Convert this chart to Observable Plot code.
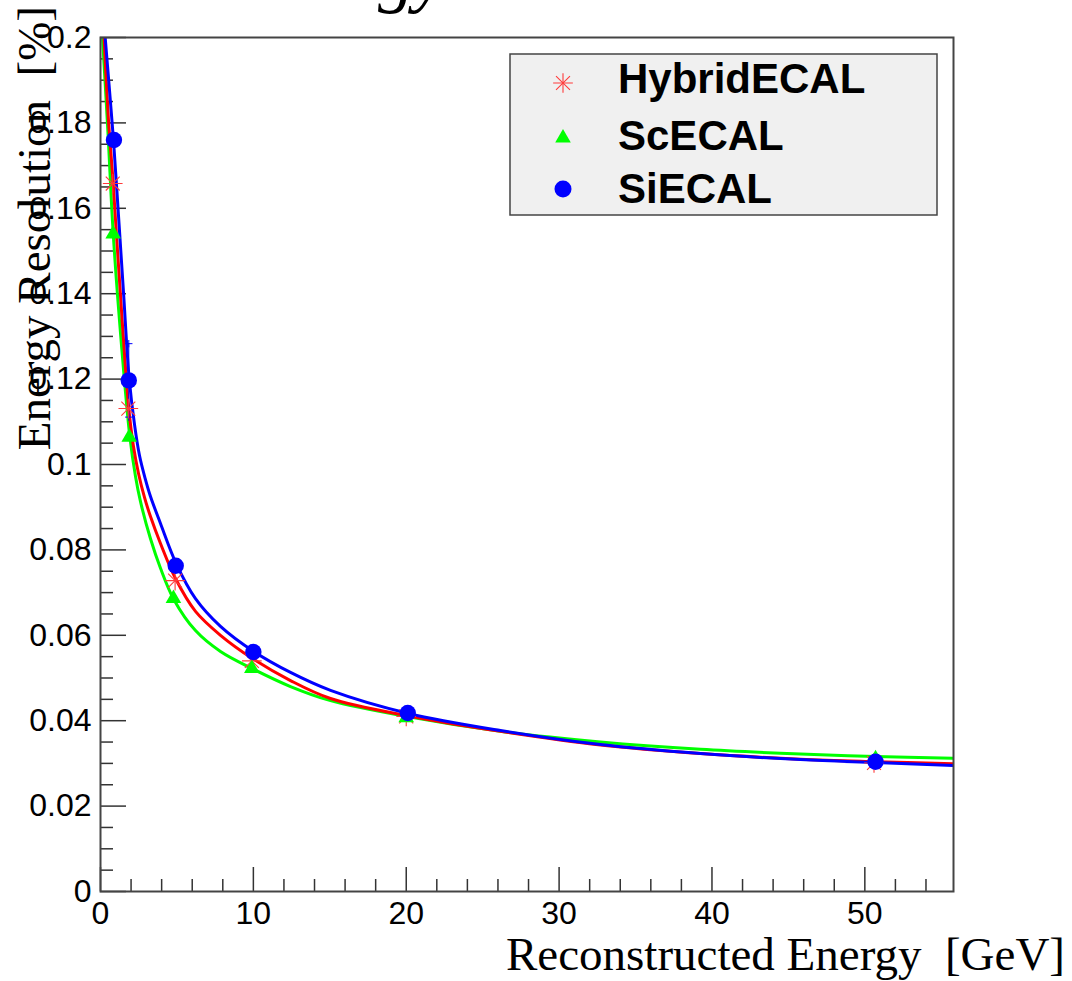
<!DOCTYPE html>
<html><head><meta charset="utf-8">
<script src="https://cdn.jsdelivr.net/npm/d3@7"></script>
<script src="https://cdn.jsdelivr.net/npm/@observablehq/plot@0.6"></script>
<style>
html,body{margin:0;padding:0;background:#fff;}
#wrap{position:relative;width:1072px;height:981px;overflow:hidden;}
#overlay{position:absolute;left:0;top:0;pointer-events:none;}
</style></head><body><div id="wrap"></div>
<script>
// ---------- data ----------
const seriesNames = ["HybridECAL", "ScECAL", "SiECAL"];

// measured points
const hybridE   = [0.80, 1.82, 4.88, 9.9, 20.0, 50.6];
const hybridRes = [0.1658, 0.1131, 0.0728, 0.0540, 0.0410, 0.0301];
const scE       = [0.83, 1.88, 4.77, 9.9, 20.0, 50.7];
const scRes     = [0.154, 0.1064, 0.0686, 0.0522, 0.0407, 0.0311];
const siE       = [0.88, 1.85, 4.92, 10.0, 20.1, 50.7];
const siRes     = [0.176, 0.1197, 0.0763, 0.0561, 0.0418, 0.0304];

// visible error bar on SiECAL point
const siErrE  = [1.85];
const siErrLo = [0.1111];
const siErrHi = [0.1283];

// fitted curves
const hybridFitE   = [0.229, 0.523, 0.831, 1.112, 1.439, 1.851, 2.159, 2.486, 2.878, 3.271, 3.925, 4.906, 6.214, 7.850, 9.923, 12.429, 15.046, 20.148, 26.166, 32.707, 39.249, 45.791, 50.697, 55.8];
const hybridFitRes = [0.2000, 0.1806, 0.1658, 0.1501, 0.1326, 0.1131, 0.1042, 0.0979, 0.0923, 0.0878, 0.0815, 0.0733, 0.0656, 0.0600, 0.0546, 0.0494, 0.0452, 0.0411, 0.0375, 0.0343, 0.0323, 0.0310, 0.0304, 0.0299];
const scFitE       = [0.131, 0.491, 0.831, 1.374, 1.917, 2.290, 2.617, 3.271, 3.925, 4.795, 6.214, 7.850, 9.923, 12.429, 15.046, 20.148, 26.166, 32.707, 39.249, 45.791, 50.697, 55.8];
const scFitRes     = [0.2000, 0.1775, 0.1541, 0.1279, 0.1066, 0.0972, 0.0913, 0.0826, 0.0757, 0.0684, 0.0611, 0.0562, 0.0522, 0.0480, 0.0447, 0.0409, 0.0375, 0.0350, 0.0333, 0.0322, 0.0316, 0.0312];
const siFitE       = [0.307, 0.589, 0.850, 1.177, 1.505, 1.877, 2.224, 2.551, 2.924, 3.271, 3.925, 4.952, 6.214, 7.850, 10.028, 12.429, 15.046, 20.148, 26.166, 32.707, 39.249, 45.791, 50.697, 55.8];
const siFitRes     = [0.2000, 0.1876, 0.1759, 0.1583, 0.1403, 0.1201, 0.1094, 0.1021, 0.0967, 0.0925, 0.0862, 0.0768, 0.0686, 0.0621, 0.0562, 0.0513, 0.0471, 0.0417, 0.0377, 0.0344, 0.0323, 0.0309, 0.0302, 0.0295];

// axes
const xMax = 55.8;
const xTickLabels = [0, 10, 20, 30, 40, 50];
const yTickLabels = [0, 0.02, 0.04, 0.06, 0.08, 0.1, 0.12, 0.14, 0.16, 0.18, 0.2];

const xTitle = "Reconstructed Energy  [GeV]";
const yTitle = "Energy Resolution  [%]";
const topTitle = "Energy";

// ---------- build ----------
const zip = (xs, ys) => xs.map((x, i) => ({e: x, r: ys[i]}));
const hybridPts = zip(hybridE, hybridRes), scPts = zip(scE, scRes), siPts = zip(siE, siRes);
const hybridFit = zip(hybridFitE, hybridFitRes), scFit = zip(scFitE, scFitRes), siFit = zip(siFitE, siFitRes);
const siErr = siErrE.map((e, i) => ({e, lo: siErrLo[i], hi: siErrHi[i]}));

const W = 1072, H = 981, mL = 100, mR = 119, mT = 37, mB = 90;
const plotW = W - mL - mR, plotH = H - mT - mB;

const xMinor = d3.range(0, xMax, 2).filter(v => v % 10 !== 0);
const yMinor = d3.range(0, 0.2001, 0.005).map(v => +v.toFixed(3)).filter(v => !yTickLabels.includes(v));

const RED = "#ff0000", BLUE = "#0000ff", GREEN = "#00ff00";
const tickStroke = "#333";
const curve = "catmull-rom";

const chart = Plot.plot({
  width: W, height: H,
  marginLeft: mL, marginRight: mR, marginTop: mT, marginBottom: mB,
  style: {background: "white", color: "black", fontFamily: "'Liberation Sans', Arial, sans-serif", overflow: "visible"},
  x: {domain: [0, xMax], label: null},
  y: {domain: [0, 0.2], label: null},
  marks: [
    // ticks inside frame
    Plot.tickY(yMinor, {y: d => d, insetRight: plotW - 13, stroke: tickStroke, strokeWidth: 1.5}),
    Plot.tickY(yTickLabels, {y: d => d, insetRight: plotW - 26, stroke: tickStroke, strokeWidth: 1.5}),
    Plot.tickX(xMinor, {x: d => d, insetTop: plotH - 12, stroke: tickStroke, strokeWidth: 1.5}),
    Plot.tickX(xTickLabels, {x: d => d, insetTop: plotH - 24, stroke: tickStroke, strokeWidth: 1.5}),
    // fit curves
    Plot.line(scFit, {x: "e", y: "r", stroke: GREEN, strokeWidth: 3, curve, clip: true}),
    Plot.line(hybridFit, {x: "e", y: "r", stroke: RED, strokeWidth: 3, curve, clip: true}),
    Plot.line(siFit, {x: "e", y: "r", stroke: BLUE, strokeWidth: 3, curve, clip: true}),
    // error bar
    Plot.ruleX(siErr, {x: "e", y1: "lo", y2: "hi", stroke: BLUE, strokeWidth: 1}),
    Plot.dot(siErr, {x: "e", y: "lo", symbol: "plus", r: 2.5, stroke: BLUE, strokeWidth: 1}),
    Plot.dot(siErr, {x: "e", y: "hi", symbol: "plus", r: 2.5, stroke: BLUE, strokeWidth: 1}),
    // markers
    Plot.dot(hybridPts, {x: "e", y: "r", symbol: "plus", r: 6.4, stroke: "#ff3b3b", strokeWidth: 1.1}),
    Plot.dot(hybridPts, {x: "e", y: "r", symbol: "times", r: 6.4, stroke: "#ff3b3b", strokeWidth: 1.1}),
    Plot.dot(scPts, {x: "e", y: "r", symbol: "triangle", r: 5.8, fill: GREEN, stroke: "none"}),
    Plot.dot(siPts, {x: "e", y: "r", symbol: "circle", r: 8.2, fill: BLUE, stroke: "none"}),
    // axes labels
    Plot.axisY({ticks: yTickLabels, tickSize: 0, tickPadding: 9, fontSize: 32, label: null,
      tickFormat: d => d === 0 ? "0" : String(+d.toFixed(3))}),
    Plot.axisX({ticks: xTickLabels, tickSize: 0, tickPadding: 10, fontSize: 32, label: null}),
    Plot.frame({stroke: "#444", strokeWidth: 2})
  ]
});

const wrap = document.getElementById("wrap");
wrap.appendChild(chart);

// ---------- overlay: titles + legend ----------
const svg = d3.select(wrap).append("svg").attr("id", "overlay")
  .attr("width", W).attr("height", H);

svg.append("text").text(topTitle)
  .attr("x", 446).attr("y", -1)
  .attr("text-anchor", "end")
  .attr("font-family", "'Liberation Serif', 'Times New Roman', serif")
  .attr("font-style", "italic").attr("font-size", 72).attr("fill", "black");

svg.append("text").text(xTitle)
  .attr("x", 1065).attr("y", 970)
  .attr("text-anchor", "end")
  .style("white-space", "pre")
  .attr("font-family", "'Liberation Serif', 'Times New Roman', serif")
  .attr("font-size", 47).attr("fill", "black");

svg.append("text").text(yTitle)
  .attr("transform", "translate(50,6) rotate(-90)")
  .attr("text-anchor", "end")
  .style("white-space", "pre")
  .attr("font-family", "'Liberation Serif', 'Times New Roman', serif")
  .attr("font-size", 47).attr("fill", "black");

const lg = svg.append("g");
lg.append("rect").attr("x", 510).attr("y", 54).attr("width", 427).attr("height", 161)
  .attr("fill", "#f0f0f0").attr("stroke", "#444").attr("stroke-width", 1.5);

const legendRows = [
  {name: seriesNames[0], sy: 83, ty: 93},
  {name: seriesNames[1], sy: 138, ty: 150},
  {name: seriesNames[2], sy: 189, ty: 203}
];
const area = r => Math.PI * r * r;
lg.append("path").attr("d", d3.symbol(d3.symbolPlus, area(6.4))()).attr("transform", `translate(563,${legendRows[0].sy})`)
  .attr("fill", "none").attr("stroke", "#ff3b3b").attr("stroke-width", 1.1);
lg.append("path").attr("d", d3.symbol(d3.symbolTimes, area(6.4))()).attr("transform", `translate(563,${legendRows[0].sy})`)
  .attr("fill", "none").attr("stroke", "#ff3b3b").attr("stroke-width", 1.1);
lg.append("path").attr("d", d3.symbol(d3.symbolTriangle, area(5.8))()).attr("transform", `translate(563,${legendRows[1].sy})`)
  .attr("fill", GREEN);
lg.append("circle").attr("cx", 563).attr("cy", legendRows[2].sy).attr("r", 8.5).attr("fill", BLUE);

legendRows.forEach(r => {
  lg.append("text").text(r.name).attr("x", 618).attr("y", r.ty)
    .attr("font-family", "'Liberation Sans', Arial, sans-serif")
    .attr("font-weight", "bold").attr("font-size", 42).attr("fill", "black");
});
</script></body></html>
